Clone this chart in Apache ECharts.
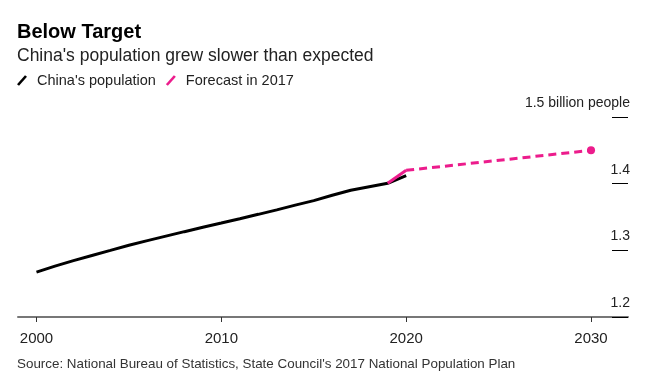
<!DOCTYPE html>
<html><head><meta charset="utf-8">
<script src="https://cdn.jsdelivr.net/npm/echarts@6/dist/echarts.min.js"></script>
<style>html,body{margin:0;padding:0;background:#fff}#c{width:657px;height:390px}</style>
</head><body><div id="c"></div>
<script>
const years = [2000,2001,2002,2003,2004,2005,2006,2007,2008,2009,2010,2011,2012,2013,2014,2015,2016,2017,2018,2019,2020];
const population = [1.2674,1.2763,1.2845,1.2923,1.2999,1.3076,1.3145,1.3213,1.3280,1.3345,1.3409,1.3474,1.3540,1.3607,1.3678,1.3746,1.3827,1.3901,1.3954,1.4005,1.4121];
const forecastYears = [2019,2020,2030];
const forecastValues = [1.4005,1.420,1.450];
const xTicks = [2000,2010,2020,2030];
const yTicks = [1.2,1.3,1.4,1.5];

const font = '"Liberation Sans", Arial, Helvetica, sans-serif';
const pink = '#ec1c8c';
const chart = echarts.init(document.getElementById('c'));
chart.setOption({
  animation: false,
  textStyle: {fontFamily: font},
  title: [
    {text: 'Below Target', left: 12, top: 17, textStyle: {fontFamily: font, fontSize: 20, fontWeight: 'bold', color: '#000'}},
    {text: "China's population grew slower than expected", left: 12, top: 42, textStyle: {fontFamily: font, fontSize: 17.5, fontWeight: 'normal', color: '#222'}},
    {text: "Source: National Bureau of Statistics, State Council's 2017 National Population Plan", left: 12, top: 353, textStyle: {fontFamily: font, fontSize: 13.4, fontWeight: 'normal', color: '#333'}}
  ],
  legend: {
    left: 12, top: 68, itemWidth: 10, itemHeight: 11, itemGap: 10,
    data: ["China's population", 'Forecast in 2017'],
    icon: 'path://M0,9 L8,0 L10,1.6 L2,10.6 Z',
    textStyle: {fontFamily: font, fontSize: 14.5, color: '#222', padding: [0, 0, 0, 5]}
  },
  grid: {left: 18, right: 29, top: 117, bottom: 73},
  xAxis: {
    type: 'value', min: 1999, max: 2032,
    axisLine: {lineStyle: {color: '#777', width: 2}},
    axisTick: {show: true, length: 5, lineStyle: {color: '#333', width: 1}, customValues: xTicks},
    axisLabel: {customValues: xTicks, margin: 14, fontSize: 15, color: '#222', fontFamily: font, formatter: v => String(v)},
    splitLine: {show: false}
  },
  yAxis: {
    type: 'value', position: 'right', min: 1.2, max: 1.5, interval: 0.1,
    axisLine: {show: false},
    axisTick: {show: true, inside: true, length: 16, lineStyle: {color: '#000', width: 1}},
    axisLabel: {
      inside: true, margin: -2, align: 'right', verticalAlign: 'bottom', padding: [0, 0, 7, 0],
      fontSize: 14, color: '#222', fontFamily: font,
      formatter: v => {
        const r = Math.round(v * 10) / 10;
        const t = yTicks.find(y => Math.abs(y - r) < 1e-6);
        const s = t.toFixed(1);
        return Math.abs(t - 1.5) < 1e-6 ? s + ' billion people' : s;
      }
    },
    splitLine: {show: false}
  },
  series: [
    {
      name: "China's population", type: 'line', showSymbol: false, symbol: 'none',
      data: years.map((y, i) => [y, population[i]]),
      lineStyle: {color: '#000', width: 3}, itemStyle: {color: '#000'}, z: 2
    },
    {
      name: 'Forecast in 2017', type: 'line', symbol: 'none',
      data: forecastYears.slice(0, 2).map((y, i) => [y, forecastValues[i]]),
      lineStyle: {color: pink, width: 3}, itemStyle: {color: pink}, z: 3
    },
    {
      name: 'forecast-dashed', type: 'line', symbol: 'circle', symbolSize: 8,
      showAllSymbol: true,
      data: forecastYears.slice(1).map((y, i) => ({value: [y, forecastValues[i + 1]], symbol: i === 1 ? 'circle' : 'none'})),
      lineStyle: {color: pink, width: 3, type: [8, 5]}, itemStyle: {color: pink}, z: 3
    }
  ]
});
</script></body></html>
